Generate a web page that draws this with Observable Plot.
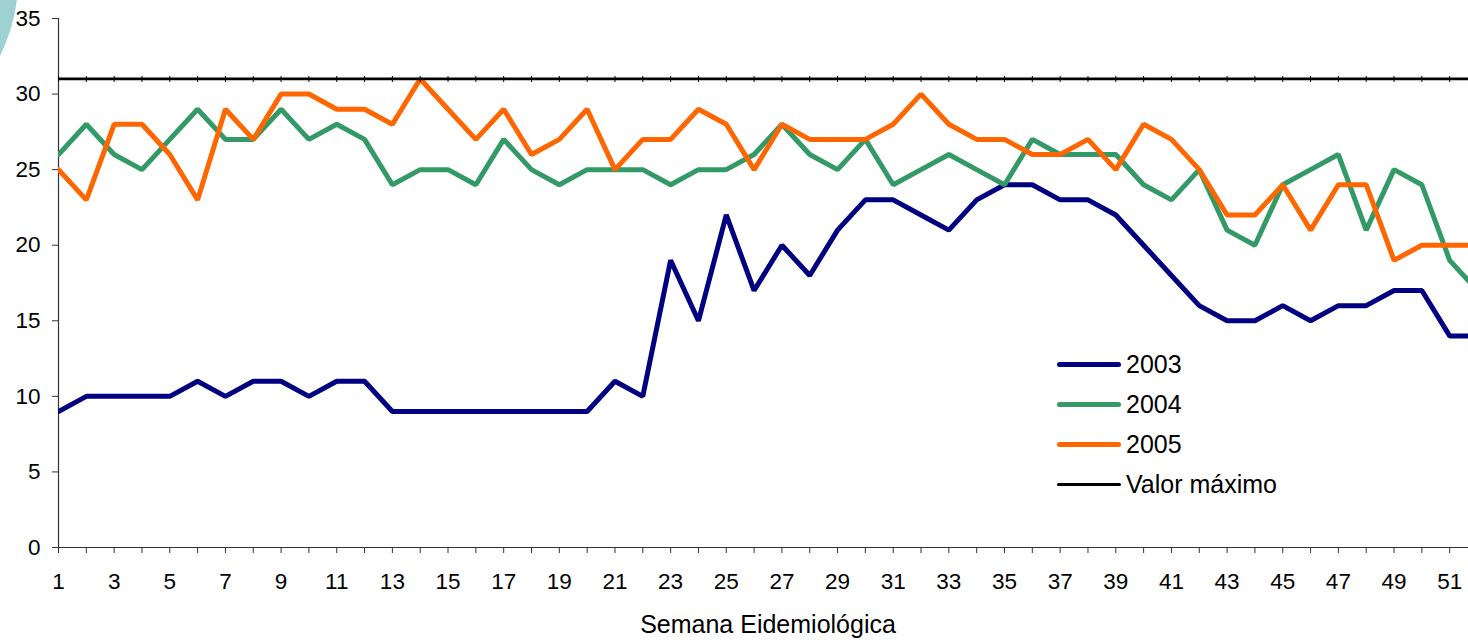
<!DOCTYPE html>
<html>
<head>
<meta charset="utf-8">
<script src="https://cdn.jsdelivr.net/npm/d3@7"></script>
<script src="https://cdn.jsdelivr.net/npm/@observablehq/plot@0.6"></script>
<style>
  html, body { margin: 0; padding: 0; background: #fff; overflow: hidden; }
  #wrap { position: relative; width: 1468px; height: 640px; overflow: hidden; font-family: "Liberation Sans", Arial, sans-serif; }
  #deco { position: absolute; left: -318px; top: -188px; width: 336px; height: 336px; border-radius: 50%; background: #9fd0d2; z-index: 2; }
  #legend { position: absolute; left: 1057px; top: 344px; z-index: 3; }
  .row { display: flex; align-items: center; height: 40px; font-size: 25px; color: #000; }
  .sw { width: 64px; margin-right: 5px; border-radius: 3px; }
</style>
</head>
<body>
<div id="wrap">
  <div id="deco"></div>
  <div id="chart"></div>
  <div id="legend"></div>
</div>
<script>
// ---- data ----
const weeks = d3.range(1, 53);
const y2003 = [9,10,10,10,10,11,10,11,11,10, 11,11,9,9,9,9,9,9,9,9, 11,10,19,15,22,17,20,18,21,23, 23,22,21,23,24,24,23,23,22,20, 18,16,15,15,16,15,16,16,17,17, 14,14];
const y2004 = [26,28,26,25,27,29,27,27,29,27, 28,27,24,25,25,24,27,25,24,25, 25,25,24,25,25,26,28,26,25,27, 24,25,26,25,24,27,26,26,26,24, 23,25,21,20,24,25,26,21,25,24, 19,17];
const y2005 = [25,23,28,28,26,23,29,27,30,30, 29,29,28,31,29,27,29,26,27,29, 25,27,27,29,28,25,28,27,27,27, 28,30,28,27,27,26,26,27,25,28, 27,25,22,22,24,21,24,24,19,20, 20,20];
const maxValue = 31;
const seriesNames = ["2003", "2004", "2005", "Valor máximo"];
const seriesColors = ["#000080", "#339966", "#FF6600", "#000000"];
const xTicks = d3.range(1, 52);
const yTicks = d3.range(0, 36, 5);
const xLabel = "Semana Eidemiológica";

// ---- tables ----
const yearData = [y2003, y2004, y2005].flatMap((vals, i) =>
  vals.map((v, j) => ({ week: weeks[j], value: v, series: seriesNames[i] })));
const maxData = weeks.map(w => ({ week: w, value: maxValue, series: seriesNames[3] }));

const vline = { draw(ctx, size) { const h = Math.sqrt(size / Math.PI); ctx.moveTo(0, -h); ctx.lineTo(0, h); } };

const chart = Plot.plot({
  width: 1468,
  height: 640,
  marginTop: 18,
  marginBottom: 93,
  marginLeft: 58,
  marginRight: 0,
  x: { domain: [weeks[0], weeks[weeks.length - 1]], range: [58, 1477] },
  y: { domain: [0, 35] },
  color: { domain: seriesNames, range: seriesColors },
  style: { fontFamily: "'Liberation Sans', Arial, sans-serif", fontSize: "22.5px", color: "#000", background: "white" },
  marks: [
    Plot.axisY({ ticks: yTicks, tickSize: 6, tickPadding: 12, label: null, stroke: "#333" }),
    Plot.axisX({ ticks: xTicks, tickSize: 6, tickPadding: 20, tickFormat: d => (d % 2 ? String(d) : ""), label: null, stroke: "#333" }),
    Plot.ruleY([0], { stroke: "#333", strokeWidth: 1.2 }),
    Plot.ruleX([weeks[0]], { y1: 0, y2: 35, stroke: "#333", strokeWidth: 1.2 }),
    Plot.line(yearData, { x: "week", y: "value", z: "series", stroke: "series", strokeWidth: 5, strokeLinejoin: "miter", clip: true }),
    Plot.line(maxData, { x: "week", y: "value", stroke: "series", strokeWidth: 2.8, clip: true }),
    Plot.dot(maxData, { x: "week", y: "value", symbol: vline, r: 3, stroke: "#000", strokeWidth: 1, clip: true }),
    Plot.text([xLabel], { x: d3.mean([weeks[0], weeks[weeks.length - 1]]), frameAnchor: "bottom", dy: 77, text: d => d, fontSize: 25, lineAnchor: "middle", fill: "#000" })
  ]
});
document.getElementById("chart").appendChild(chart);

// ---- legend ----
const legend = document.getElementById("legend");
seriesNames.forEach((name, i) => {
  const row = document.createElement("div");
  row.className = "row";
  const sw = document.createElement("div");
  sw.className = "sw";
  sw.style.height = (i === 3 ? 3 : 5) + "px";
  sw.style.background = seriesColors[i];
  const label = document.createElement("span");
  label.textContent = name;
  row.appendChild(sw);
  row.appendChild(label);
  legend.appendChild(row);
});
</script>
</body>
</html>
